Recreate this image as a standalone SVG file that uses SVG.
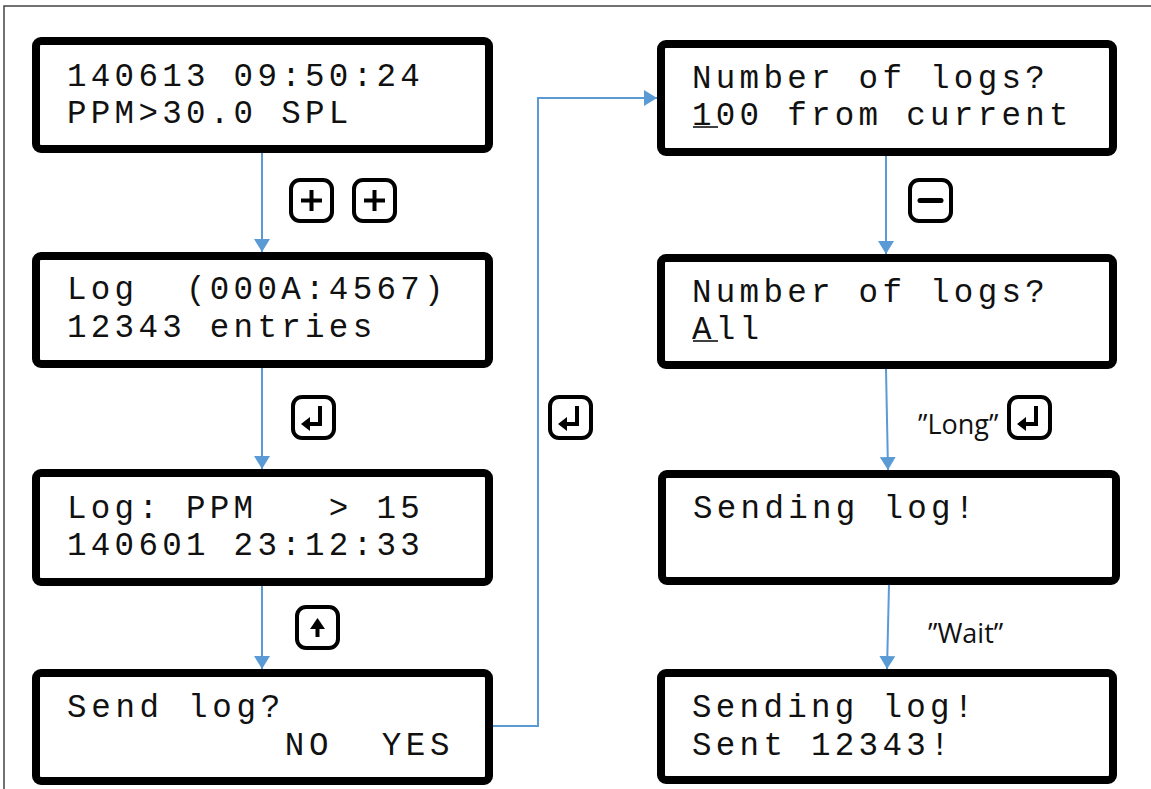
<svg xmlns="http://www.w3.org/2000/svg" width="1151" height="789" viewBox="0 0 1151 789">
<style>
.lcd{fill:#fff;stroke:#000;stroke-width:8}
.t{font-family:"Liberation Mono","DejaVu Sans Mono",monospace;font-size:32.5px;letter-spacing:4.3px;fill:#111;white-space:pre}
.lbl{font-family:"Open Sans","Noto Sans",sans-serif;font-size:27px;fill:#111}
.conn{fill:none;stroke:#5B9BD5;stroke-width:2;marker-end:url(#ah)}
.kf{fill:#fff;stroke:#000;stroke-width:4}
.ks{fill:none;stroke:#000;stroke-width:4;stroke-linecap:butt}
.kh{fill:#000;stroke:none}
.cur{stroke:#000;stroke-width:1.5}
</style>
<defs>
<marker id="ah" markerUnits="userSpaceOnUse" viewBox="0 0 13 16" markerWidth="13" markerHeight="16" refX="13" refY="8" orient="auto">
<path d="M0,0 L13,8 L0,16 z" fill="#5B9BD5"/>
</marker>
<rect id="keyframe" class="kf" x="2" y="2" width="41" height="41" rx="9"/>
</defs>
<rect x="0" y="0" width="1151" height="789" fill="#fff"/>
<path d="M4,789 V6 H1151" fill="none" stroke="#444" stroke-width="1.5"/>

<g id="connectors">
<path class="conn" d="M262,153 V252"/>
<path class="conn" d="M262,368 V469"/>
<path class="conn" d="M262,586 V669"/>
<path class="conn" d="M492,726 H538 V98 H657"/>
<path class="conn" d="M886,156 V254"/>
<path class="conn" d="M886,369 L888,470"/>
<path class="conn" d="M889,585 L887,669"/>
</g>

<g id="screen-clock">
<rect class="lcd" x="36" y="41" width="453" height="108" rx="5"/>
<text class="t" x="67" y="86">140613 09:50:24</text>
<text class="t" x="67" y="123">PPM&gt;30.0 SPL</text>
</g>
<g id="screen-log">
<rect class="lcd" x="36" y="256" width="453" height="108" rx="5"/>
<text class="t" x="67" y="299">Log  (000A:4567)</text>
<text class="t" x="67" y="337">12343 entries</text>
</g>
<g id="screen-log-entry">
<rect class="lcd" x="36" y="473" width="453" height="109" rx="5"/>
<text class="t" x="67" y="518">Log: PPM   &gt; 15</text>
<text class="t" x="67" y="555">140601 23:12:33</text>
</g>
<g id="screen-send">
<rect class="lcd" x="36" y="673" width="453" height="108" rx="5"/>
<text class="t" x="67" y="717" style="letter-spacing:4.7px">Send log?</text>
<text class="t" x="67" y="755" style="letter-spacing:4.7px">         NO  YES</text>
</g>
<g id="screen-number-100">
<rect class="lcd" x="661" y="44" width="452" height="108" rx="5"/>
<text class="t" x="692" y="88">Number of logs?</text>
<text class="t" x="692" y="125">100 from current</text>
<line class="cur" x1="693" y1="127" x2="718" y2="127"/>
</g>
<g id="screen-number-all">
<rect class="lcd" x="661" y="258" width="452" height="107" rx="5"/>
<text class="t" x="692" y="302">Number of logs?</text>
<text class="t" x="692" y="339">All</text>
<line class="cur" x1="693" y1="341" x2="718" y2="341"/>
</g>
<g id="screen-sending">
<rect class="lcd" x="662" y="474" width="454" height="107" rx="5"/>
<text class="t" x="693" y="518">Sending log!</text>
</g>
<g id="screen-sent">
<rect class="lcd" x="661" y="673" width="452" height="107" rx="5"/>
<text class="t" x="692" y="717">Sending log!</text>
<text class="t" x="692" y="755">Sent 12343!</text>
</g>

<g id="key-plus-1" transform="translate(289,178)">
<use href="#keyframe"/>
<path class="ks" d="M12,22.5 H33 M22.5,12 V33"/>
</g>
<g id="key-plus-2" transform="translate(352,178)">
<use href="#keyframe"/>
<path class="ks" d="M12,22.5 H33 M22.5,12 V33"/>
</g>
<g id="key-enter-1" transform="translate(291,395)">
<use href="#keyframe"/>
<path class="ks" d="M29,11 V29 H18"/>
<path class="kh" d="M10,29 L19,22 V36 z"/>
</g>
<g id="key-enter-2" transform="translate(548,395)">
<use href="#keyframe"/>
<path class="ks" d="M29,11 V29 H18"/>
<path class="kh" d="M10,29 L19,22 V36 z"/>
</g>
<g id="key-up" transform="translate(295,605)">
<use href="#keyframe"/>
<path class="ks" d="M22.5,23 V32"/>
<path class="kh" d="M22.5,13 L30,24 H15 z"/>
</g>
<g id="key-minus" transform="translate(908,178)">
<use href="#keyframe"/>
<path class="ks" d="M12,22.5 H33" style="stroke-width:5;stroke-linecap:round"/>
</g>
<g id="key-enter-3" transform="translate(1007,395)">
<use href="#keyframe"/>
<path class="ks" d="M29,11 V29 H18"/>
<path class="kh" d="M10,29 L19,22 V36 z"/>
</g>

<g id="label-long">
<text class="lbl" x="918" y="434">”Long”</text>
</g>
<g id="label-wait">
<text class="lbl" x="928" y="643">”Wait”</text>
</g>
</svg>
